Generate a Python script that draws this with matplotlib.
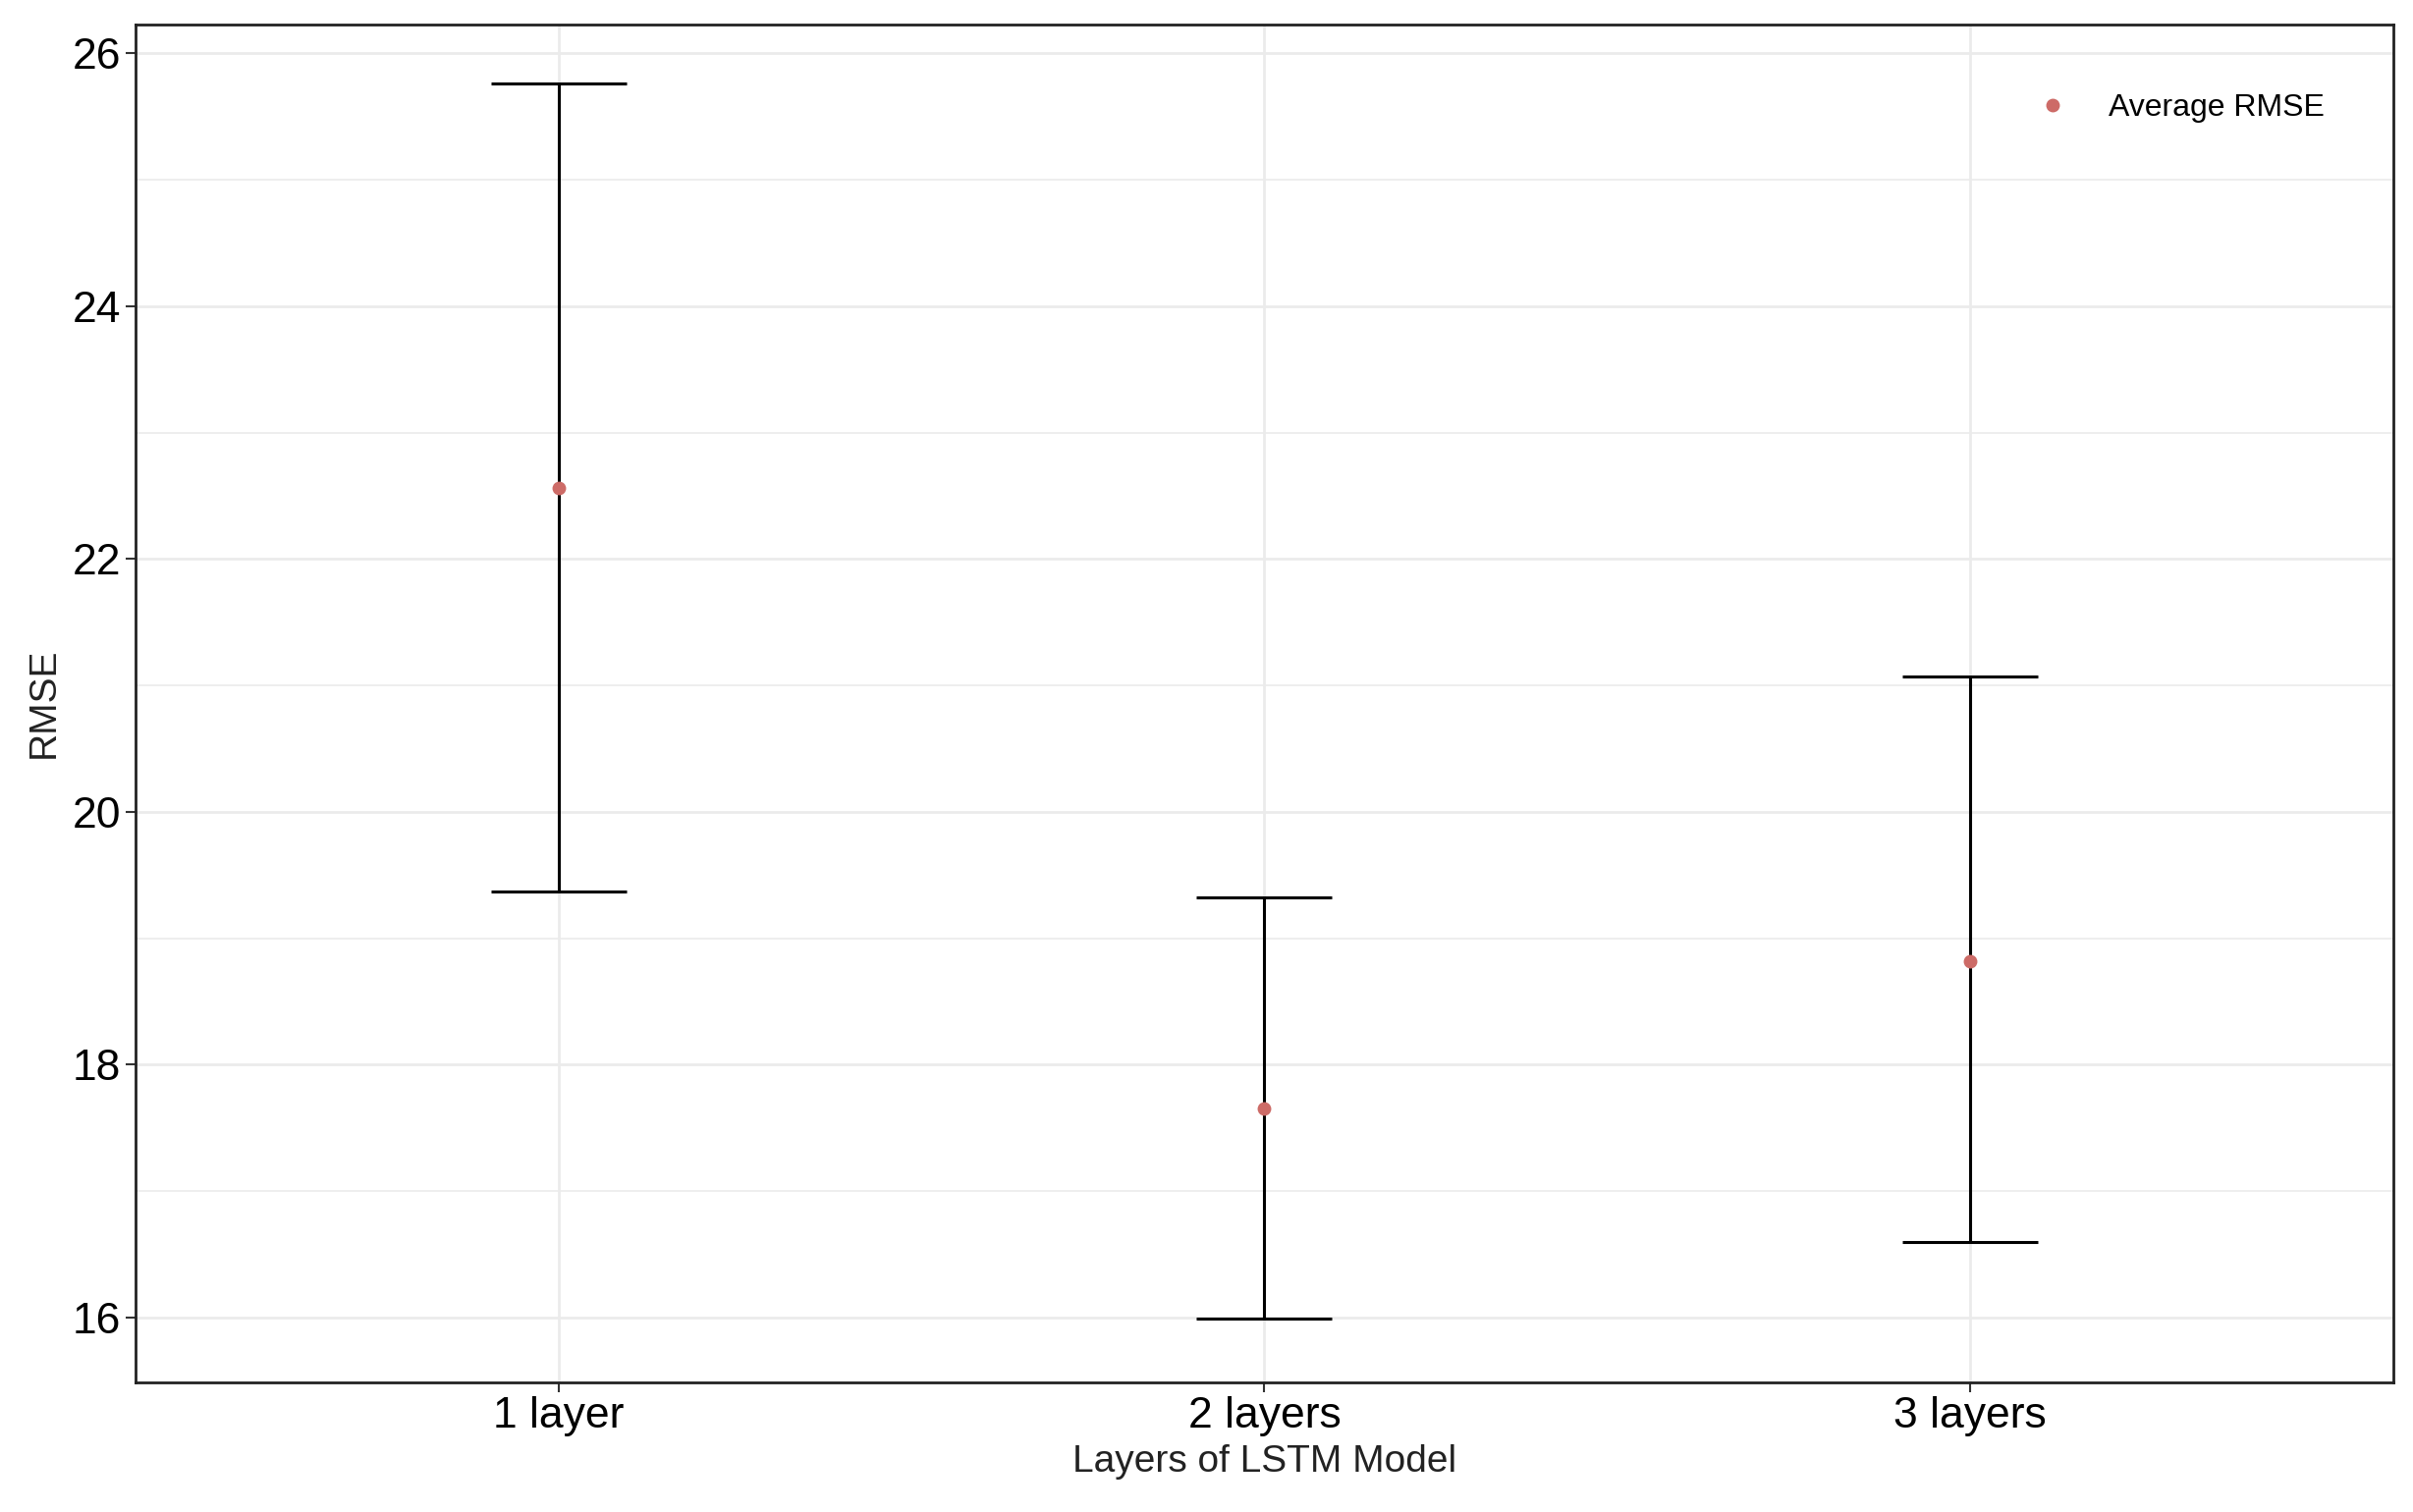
import matplotlib.pyplot as plt
import numpy as np

plt.rcParams['font.family'] = ['Liberation Sans', 'DejaVu Sans']

layers = ['1 layer', '2 layers', '3 layers']
mean_rmse = [22.56, 17.65, 18.82]
lower_rmse = [19.37, 15.99, 16.60]
upper_rmse = [25.76, 19.32, 21.07]

fig = plt.figure(figsize=(24.57, 15.4), dpi=100)
ax = fig.add_axes([0.056, 0.086, 0.936, 0.898])

x = np.arange(1, len(layers) + 1)
mean = np.array(mean_rmse)
yerr = [mean - np.array(lower_rmse), np.array(upper_rmse) - mean]

# error bars (no marker), then the points on top
ax.errorbar(x, mean, yerr=yerr, fmt='none', ecolor='black', elinewidth=2.2,
            capsize=50, capthick=2.2, zorder=3)
ax.plot(x, mean, 'o', color='#CD6B67', markersize=9, zorder=4,
        label='Average RMSE', linestyle='none')

ax.set_xlim(0.4, 3.6)
ax.set_ylim(15.49, 26.23)
ax.set_xticks(x)
ax.set_xticklabels(layers)
ax.set_yticks([16, 18, 20, 22, 24, 26])
ax.set_yticks(np.arange(17, 26, 2), minor=True)

ax.grid(True, which='major', color='#EBEBEB', lw=2)
ax.grid(True, which='minor', axis='y', color='#EBEBEB', lw=1.2)
ax.set_axisbelow(True)
ax.tick_params(which='major', labelsize=32, length=7, width=1.5, color='#333333')
ax.tick_params(which='minor', length=0)
for s in ax.spines.values():
    s.set_color('#222222')
    s.set_linewidth(2)

ax.set_xlabel('Layers of LSTM Model', fontsize=28, color='#222222', labelpad=6)
ax.set_ylabel('RMSE', fontsize=28, color='#222222', labelpad=8)

ax.legend(loc='upper right', frameon=False, fontsize=23, handletextpad=0.8,
          borderaxespad=1.8, markerscale=1.0)

fig.savefig('out.png', dpi=100)
